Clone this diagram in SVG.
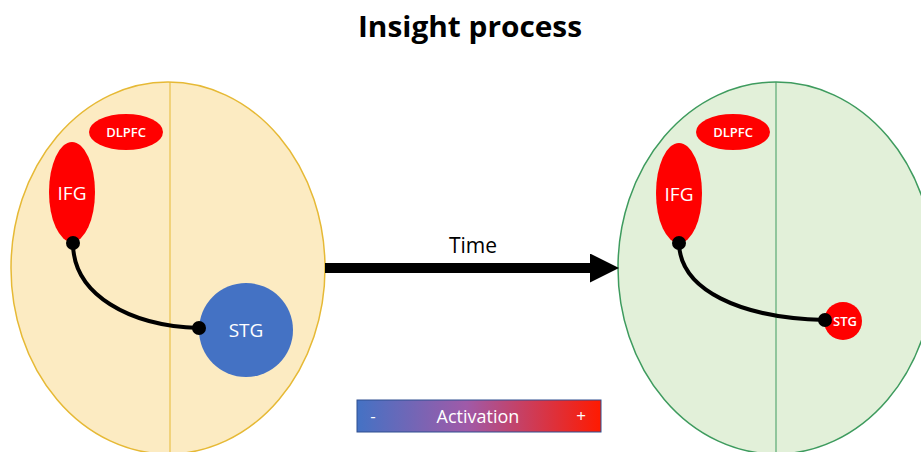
<svg xmlns="http://www.w3.org/2000/svg" width="921" height="452" viewBox="0 0 921 452">
<defs>
<linearGradient id="act" x1="0" y1="0" x2="1" y2="0">
<stop offset="0" stop-color="#4472C4"/>
<stop offset="0.45" stop-color="#A05AA8"/>
<stop offset="1" stop-color="#FF1A00"/>
</linearGradient>
<marker id="head" viewBox="0 0 10 10" refX="0" refY="5" markerWidth="2.9" markerHeight="2.9" orient="auto" markerUnits="strokeWidth">
<path d="M0,0 L10,5 L0,10 Z" fill="#000"/>
</marker>
</defs>
<style>
.lbl{font-family:"Open Sans","Liberation Sans",sans-serif;fill:#fff;text-anchor:middle}
.sb{font-weight:600}
.red{fill:#FF0000}
.dot{fill:#000}
.conn{fill:none;stroke:#000;stroke-width:4}
</style>
<rect width="921" height="452" fill="#fff"/>
<text x="470" y="37" font-family="Open Sans, Liberation Sans, sans-serif" font-weight="bold" font-size="28" text-anchor="middle" textLength="224" lengthAdjust="spacingAndGlyphs" fill="#000">Insight process</text>

<g id="brain-before">
<ellipse cx="168" cy="268" rx="157" ry="186" fill="#FCEBC2" stroke="#E6B935" stroke-width="1.5"/>
<line x1="170" y1="82" x2="170" y2="452" stroke="#E6B935" stroke-width="1"/>
</g>
<g id="brain-after">
<ellipse cx="776" cy="268" rx="158" ry="186" fill="#E2F0D9" stroke="#3E9B5E" stroke-width="1.5"/>
<line x1="776" y1="82" x2="776" y2="452" stroke="#3E9B5E" stroke-width="1"/>
</g>

<g id="dlpfc-before">
<ellipse class="red" cx="126" cy="132" rx="37" ry="18"/>
<text class="lbl sb" x="126" y="137" font-size="13">DLPFC</text>
</g>
<g id="ifg-before">
<ellipse class="red" cx="72" cy="192" rx="23" ry="50"/>
<text class="lbl" x="72" y="200" font-size="19">IFG</text>
</g>
<g id="stg-before">
<circle cx="246" cy="330" r="47" fill="#4472C4"/>
<text class="lbl" x="246" y="337" font-size="19">STG</text>
</g>

<g id="dlpfc-after">
<ellipse class="red" cx="733" cy="132" rx="37" ry="18"/>
<text class="lbl sb" x="733" y="137" font-size="13">DLPFC</text>
</g>
<g id="ifg-after">
<ellipse class="red" cx="679" cy="193" rx="23" ry="50"/>
<text class="lbl" x="679" y="201" font-size="19">IFG</text>
</g>
<g id="stg-after">
<circle class="red" cx="843" cy="321" r="19"/>
<text class="lbl sb" x="845" y="326" font-size="13">STG</text>
</g>

<g id="connectors">
<path class="conn" d="M73,243 C73,295 130,326 199,328"/>
<circle class="dot" cx="73" cy="243" r="7"/>
<circle class="dot" cx="199" cy="328" r="7"/>
<path class="conn" d="M679,243 C680,290 740,318 825,320"/>
<circle class="dot" cx="679" cy="243" r="7"/>
<circle class="dot" cx="825" cy="320" r="7"/>
<line x1="325" y1="268" x2="590" y2="268" stroke="#000" stroke-width="10" marker-end="url(#head)"/>
<text x="473" y="253" font-family="Open Sans, Liberation Sans, sans-serif" font-size="21" text-anchor="middle" fill="#000">Time</text>
</g>

<g id="legend">
<rect x="357" y="400" width="244" height="32" fill="url(#act)" stroke="#2F4F8F" stroke-width="1"/>
<text class="lbl" x="373" y="422" font-size="17">-</text>
<text class="lbl" x="478" y="423" font-size="18">Activation</text>
<text class="lbl" x="581" y="422" font-size="17">+</text>
</g>
</svg>
